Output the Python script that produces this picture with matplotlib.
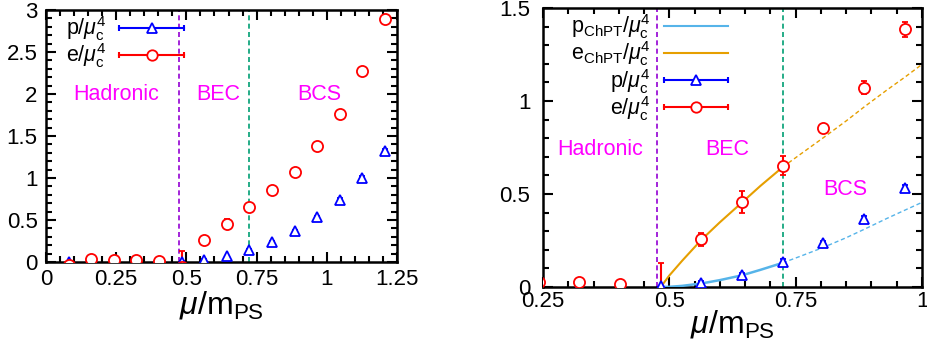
import matplotlib
matplotlib.use("Agg")
import matplotlib.pyplot as plt
from matplotlib.lines import Line2D
from matplotlib.legend_handler import HandlerBase
from matplotlib.ticker import MultipleLocator, FuncFormatter

plt.rcParams['font.family'] = ['Liberation Sans', 'DejaVu Sans']
plt.rcParams['mathtext.fontset'] = 'custom'
plt.rcParams['mathtext.rm'] = 'Liberation Sans'
plt.rcParams['mathtext.it'] = 'Liberation Sans:italic'
plt.rcParams['mathtext.bf'] = 'Liberation Sans:bold'

# ---------------- data ----------------
mu_over_mps = [0.0805, 0.161, 0.2415, 0.322, 0.4025, 0.483, 0.5635, 0.644,
               0.7245, 0.805, 0.8855, 0.966, 1.0465, 1.127, 1.2075]
p_vals = [0.0, 0.0, 0.0, 0.0, 0.0, 0.003, 0.022, 0.067, 0.137, 0.235,
          0.367, 0.532, 0.743, 1.005, 1.327]
p_err = [0.005, 0.005, 0.005, 0.005, 0.005, 0.005, 0.008, 0.01, 0.012,
         0.012, 0.015, 0.015, 0.02, 0.02, 0.02]
e_vals = [-0.04, 0.032, 0.028, 0.027, 0.014, -0.06, 0.256, 0.457, 0.652,
          0.854, 1.071, 1.385, 1.764, 2.277, 2.888]
e_err = [0.05, 0.01, 0.01, 0.01, 0.01, 0.19, 0.034, 0.057, 0.05, 0.015,
         0.036, 0.04, 0.04, 0.04, 0.04]

# ChPT curves
chpt_x_solid = [0.483, 0.50, 0.525, 0.5635, 0.60, 0.644, 0.68, 0.7245]
e_chpt_solid = [0.0, 0.062, 0.14, 0.254, 0.348, 0.455, 0.543, 0.645]
p_chpt_solid = [0.0, 0.001, 0.006, 0.019, 0.037, 0.063, 0.092, 0.13]
chpt_x_dash = [0.7245, 0.76, 0.805, 0.85, 0.8855, 0.93, 0.966, 1.0]
e_chpt_dash = [0.645, 0.715, 0.803, 0.893, 0.968, 1.058, 1.128, 1.197]
p_chpt_dash = [0.13, 0.166, 0.213, 0.265, 0.31, 0.368, 0.413, 0.455]

mu_c_line = 0.475      # hadronic / BEC boundary
bec_bcs_line = 0.7245  # BEC / BCS boundary

region_labels = ['Hadronic', 'BEC', 'BCS']
left_region_x = [0.25, 0.613, 0.975]
left_region_y = [2.0, 2.0, 2.0]
right_region_x = [0.364, 0.615, 0.848]
right_region_y = [0.737, 0.737, 0.525]

left_xticks = [0, 0.25, 0.5, 0.75, 1.0, 1.25]
left_yticks = [0, 0.5, 1.0, 1.5, 2.0, 2.5, 3.0]
right_xticks = [0.25, 0.5, 0.75, 1.0]
right_yticks = [0, 0.5, 1.0, 1.5]

# ---------------- style ----------------
BLUE = '#0000ff'
RED = '#ff0000'
SKY = '#56b4e9'
ORANGE = '#e69f00'
PURPLE = '#9400d3'
GREEN = '#009e73'
MAGENTA = '#ff00ff'
TICKFS = 16
LEGFS = 15.5
LBLFS = 15.5
XLFS = 23


class HandlerHErr(HandlerBase):
    def __init__(self, color, marker=None):
        super().__init__()
        self.color = color
        self.marker = marker

    def create_artists(self, legend, orig_handle, xdescent, ydescent,
                       width, height, fontsize, trans):
        y = height / 2 - ydescent
        x0, x1 = -xdescent, width - xdescent
        arts = [Line2D([x0, x1], [y, y], color=self.color, lw=1.5,
                       transform=trans)]
        if self.marker is not None:
            arts.append(Line2D([x0, x1], [y, y], ls='none', marker='|',
                               ms=5, mew=1.5, color=self.color,
                               transform=trans))
            arts.append(Line2D([(x0 + x1) / 2], [y], ls='none',
                               marker=self.marker, ms=7.5, mew=1.3,
                               mec=self.color, mfc='white',
                               transform=trans))
        return arts


fig = plt.figure(figsize=(9.28, 3.4), dpi=100)
axL = fig.add_axes([46 / 928, 1 - 262 / 340, (397 - 46) / 928, (262 - 10) / 340])
axR = fig.add_axes([543 / 928, 1 - 287 / 340, (922 - 543) / 928, (287 - 8) / 340])

fmt = FuncFormatter(lambda v, pos: '%g' % v)


def style_axes(ax, xpad, ypad):
    for s in ax.spines.values():
        s.set_linewidth(1.8)
    ax.tick_params(which='both', direction='in', top=True, right=True,
                   labelsize=TICKFS, width=1.5)
    ax.tick_params(which='major', length=7)
    ax.tick_params(which='minor', length=4)
    ax.tick_params(axis='x', pad=xpad)
    ax.tick_params(axis='y', pad=ypad)
    ax.xaxis.set_major_formatter(fmt)
    ax.yaxis.set_major_formatter(fmt)
    ax.xaxis.set_minor_locator(MultipleLocator(0.05))
    ax.yaxis.set_minor_locator(MultipleLocator(0.1))


def draw_data(ax):
    ax.errorbar(mu_over_mps, p_vals, yerr=p_err, fmt='^', color=BLUE,
                mfc='white', mec=BLUE, ms=7.5, mew=1.3, elinewidth=1.5,
                capsize=2.5, capthick=1.5, zorder=5)
    ax.errorbar(mu_over_mps, e_vals, yerr=e_err, fmt='o', color=RED,
                mfc='white', mec=RED, ms=8, mew=1.3, elinewidth=1.5,
                capsize=2.5, capthick=1.5, zorder=5)


def draw_vlines(ax):
    ax.axvline(mu_c_line, color=PURPLE, lw=1.2, ls=(0, (3, 2)), zorder=2)
    ax.axvline(bec_bcs_line, color=GREEN, lw=1.2, ls=(0, (3, 2)), zorder=2)


mulabel = r'$\mu$/m$_\mathregular{PS}$'
sub4 = r'/$\mu_\mathregular{c}^\mathregular{4}$'

# ---------------- left panel ----------------
style_axes(axL, 5, 6)
draw_vlines(axL)
draw_data(axL)
axL.set_xlim(0, 1.25)
axL.set_ylim(0, 3)
axL.set_xticks(left_xticks)
axL.set_yticks(left_yticks)
for t, x, y in zip(region_labels, left_region_x, left_region_y):
    axL.text(x, y, t, color=MAGENTA, fontsize=LBLFS, ha='center', va='center')
axL.set_xlabel(mulabel, fontsize=XLFS, labelpad=-1)

hp = Line2D([], [], color=BLUE)
he = Line2D([], [], color=RED)
axL.legend([hp, he], ['p' + sub4, 'e' + sub4],
           handler_map={hp: HandlerHErr(BLUE, '^'), he: HandlerHErr(RED, 'o')},
           loc='upper right', bbox_to_anchor=(0.405, 1.0), frameon=False,
           markerfirst=False, fontsize=LEGFS, handlelength=3.0,
           handletextpad=0.6, labelspacing=-0.08, borderaxespad=0.1,
           borderpad=0.1)

# ---------------- right panel ----------------
style_axes(axR, 3, 9)
draw_vlines(axR)
axR.plot(chpt_x_solid, p_chpt_solid, color=SKY, lw=1.8, zorder=3)
axR.plot(chpt_x_solid, e_chpt_solid, color=ORANGE, lw=1.5, zorder=3)
axR.plot(chpt_x_dash, p_chpt_dash, color=SKY, lw=1.0, ls=(0, (3, 2)), zorder=3)
axR.plot(chpt_x_dash, e_chpt_dash, color=ORANGE, lw=1.0, ls=(0, (3, 2)), zorder=3)
draw_data(axR)
axR.set_xlim(0.25, 1.0)
axR.set_ylim(0, 1.5)
axR.set_xticks(right_xticks)
axR.set_yticks(right_yticks)
for t, x, y in zip(region_labels, right_region_x, right_region_y):
    axR.text(x, y, t, color=MAGENTA, fontsize=LBLFS, ha='center', va='center')
axR.set_xlabel(mulabel, fontsize=XLFS, labelpad=-3)

h1 = Line2D([], [], color=SKY)
h2 = Line2D([], [], color=ORANGE)
h3 = Line2D([], [], color=BLUE)
h4 = Line2D([], [], color=RED)
axR.legend([h1, h2, h3, h4],
           [r'p$_\mathregular{ChPT}$' + sub4, r'e$_\mathregular{ChPT}$' + sub4,
            'p' + sub4, 'e' + sub4],
           handler_map={h1: HandlerHErr(SKY), h2: HandlerHErr(ORANGE),
                        h3: HandlerHErr(BLUE, '^'), h4: HandlerHErr(RED, 'o')},
           loc='upper right', bbox_to_anchor=(0.5, 1.0), frameon=False,
           markerfirst=False, fontsize=LEGFS, handlelength=3.0,
           handletextpad=0.6, labelspacing=-0.08, borderaxespad=0.1,
           borderpad=0.1)

fig.savefig('out.png', dpi=100)
